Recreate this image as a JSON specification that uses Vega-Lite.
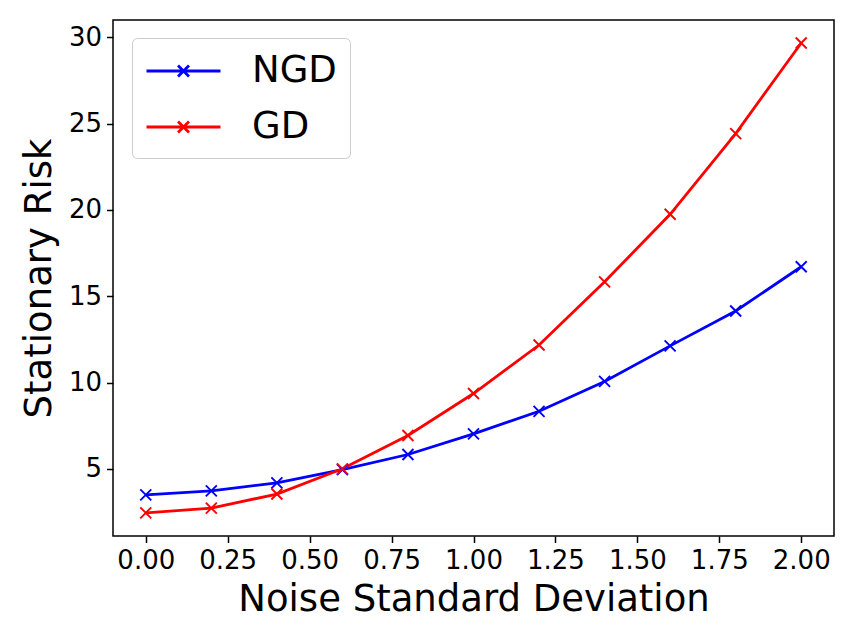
{
  "$schema": "https://vega.github.io/schema/vega-lite/v6.json",
  "width": 721,
  "height": 516,
  "autosize": "none",
  "padding": {"left": 113, "top": 20, "right": 21, "bottom": 105},
  "background": "white",
  "config": {
    "font": "DejaVu Sans",
    "view": {"stroke": "black", "strokeWidth": 1.5},
    "axis": {
      "grid": false,
      "domain": false,
      "tickColor": "black",
      "tickWidth": 1.5,
      "tickSize": 6.5,
      "labelFont": "DejaVu Sans",
      "labelFontSize": 26,
      "labelColor": "black",
      "labelPadding": 5,
      "titleFont": "DejaVu Sans",
      "titleFontSize": 37,
      "titleFontWeight": "normal",
      "titleColor": "black"
    }
  },
  "data": {
    "values": [
      {"sigma": 0.0, "risk": 3.50, "method": "NGD"},
      {"sigma": 0.2, "risk": 3.73, "method": "NGD"},
      {"sigma": 0.4, "risk": 4.20, "method": "NGD"},
      {"sigma": 0.6, "risk": 4.96, "method": "NGD"},
      {"sigma": 0.8, "risk": 5.84, "method": "NGD"},
      {"sigma": 1.0, "risk": 7.03, "method": "NGD"},
      {"sigma": 1.2, "risk": 8.34, "method": "NGD"},
      {"sigma": 1.4, "risk": 10.07, "method": "NGD"},
      {"sigma": 1.6, "risk": 12.13, "method": "NGD"},
      {"sigma": 1.8, "risk": 14.15, "method": "NGD"},
      {"sigma": 2.0, "risk": 16.71, "method": "NGD"},
      {"sigma": 0.0, "risk": 2.46, "method": "GD"},
      {"sigma": 0.2, "risk": 2.73, "method": "GD"},
      {"sigma": 0.4, "risk": 3.55, "method": "GD"},
      {"sigma": 0.6, "risk": 5.01, "method": "GD"},
      {"sigma": 0.8, "risk": 6.94, "method": "GD"},
      {"sigma": 1.0, "risk": 9.37, "method": "GD"},
      {"sigma": 1.2, "risk": 12.18, "method": "GD"},
      {"sigma": 1.4, "risk": 15.84, "method": "GD"},
      {"sigma": 1.6, "risk": 19.75, "method": "GD"},
      {"sigma": 1.8, "risk": 24.42, "method": "GD"},
      {"sigma": 2.0, "risk": 29.67, "method": "GD"}
    ]
  },
  "encoding": {
    "x": {
      "field": "sigma",
      "type": "quantitative",
      "title": "Noise Standard Deviation",
      "scale": {"domain": [-0.1, 2.1], "nice": false, "zero": false},
      "axis": {"values": [0, 0.25, 0.5, 0.75, 1, 1.25, 1.5, 1.75, 2], "format": ".2f", "titlePadding": 8}
    },
    "y": {
      "field": "risk",
      "type": "quantitative",
      "title": "Stationary Risk",
      "scale": {"domain": [1.12, 31], "nice": false, "zero": false},
      "axis": {"values": [5, 10, 15, 20, 25, 30], "format": "d", "titlePadding": 10}
    },
    "color": {
      "field": "method",
      "type": "nominal",
      "sort": ["NGD", "GD"],
      "scale": {"domain": ["NGD", "GD"], "range": ["#0000ff", "#ff0000"]},
      "legend": {
        "title": null,
        "orient": "none",
        "legendX": 19,
        "legendY": 18,
        "padding": 13,
        "fillColor": "white",
        "strokeColor": "#cccccc",
        "cornerRadius": 5,
        "labelFont": "DejaVu Sans",
        "labelFontSize": 37,
        "labelColor": "black",
        "labelOffset": 67,
        "rowPadding": 18,
        "symbolType": "M-1,0H3M0.703,-0.297L1.297,0.297M0.703,0.297L1.297,-0.297",
        "symbolSize": 1369,
        "symbolStrokeWidth": 2.8,
        "symbolFillColor": "transparent"
      }
    },
    "order": {"field": "sigma"}
  },
  "layer": [
    {
      "mark": {"type": "line", "strokeWidth": 2.8}
    },
    {
      "mark": {
        "type": "point",
        "shape": "M-1,-1L1,1M-1,1L1,-1",
        "size": 121,
        "filled": false,
        "strokeWidth": 1.9,
        "opacity": 1
      }
    }
  ]
}
